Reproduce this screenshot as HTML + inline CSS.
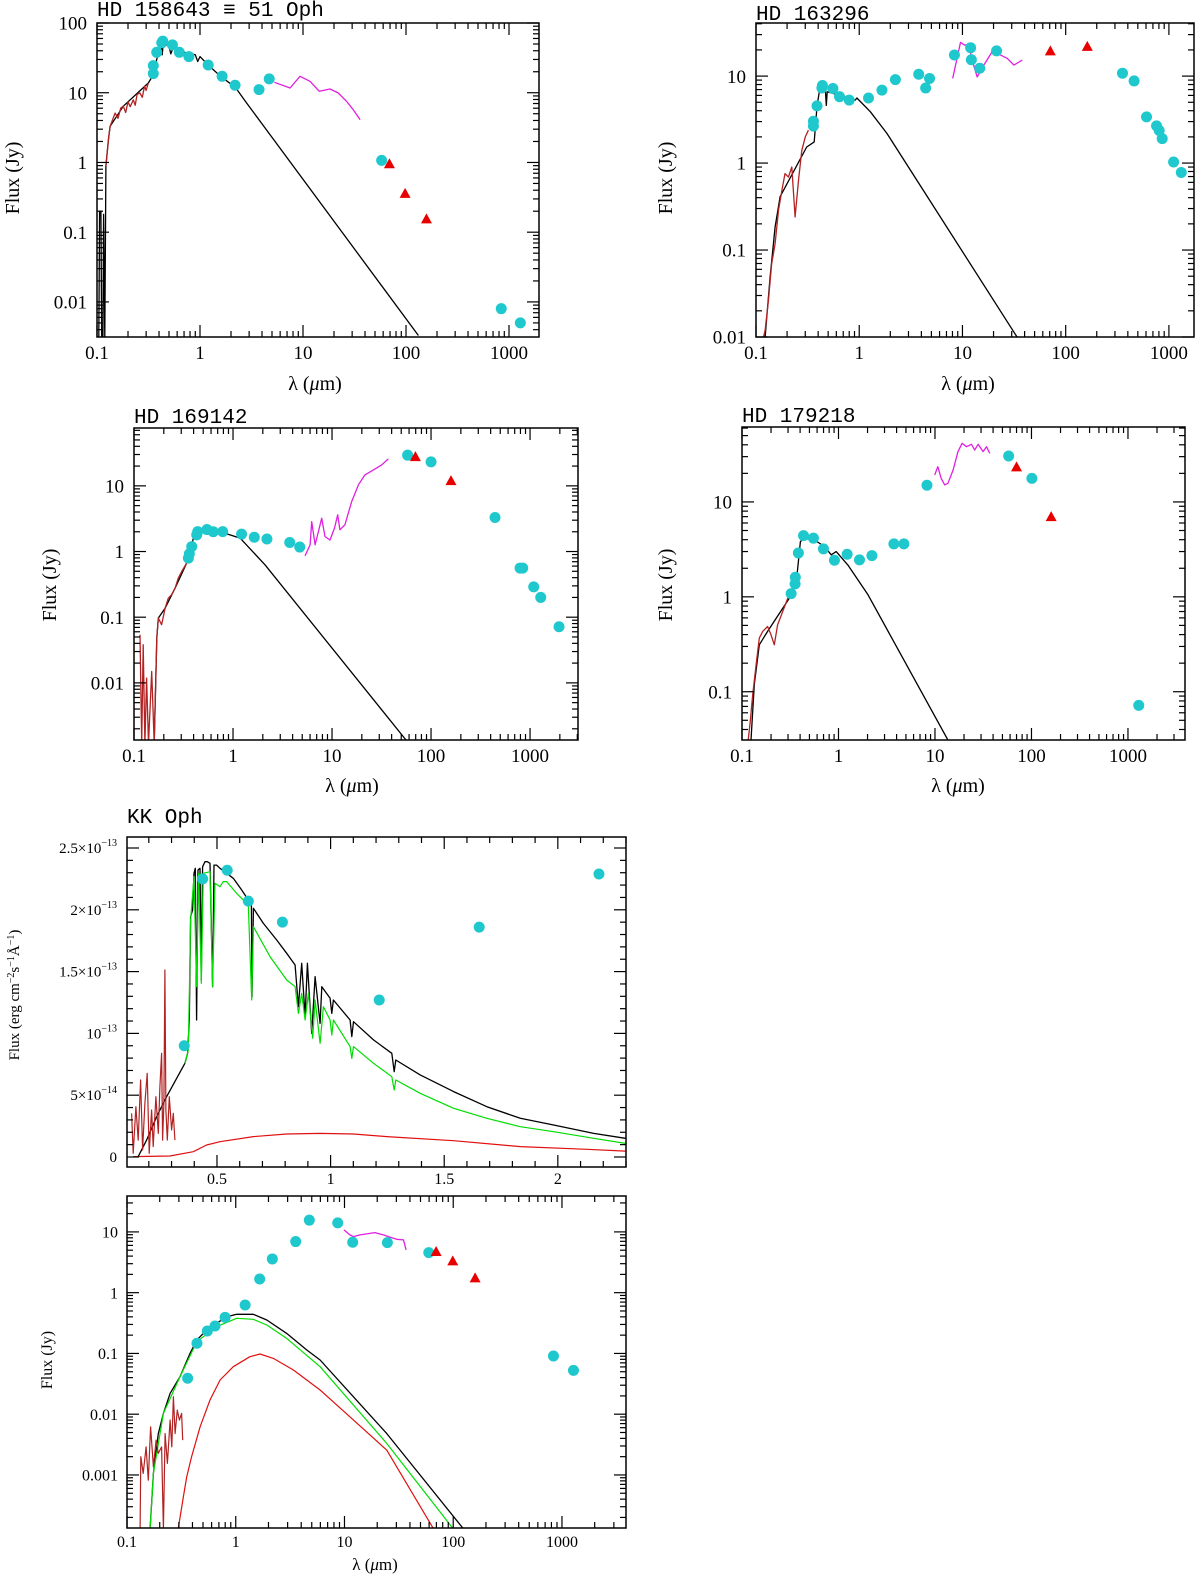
<!DOCTYPE html>
<html><head><meta charset="utf-8"><title>SED panels</title>
<style>
html,body{margin:0;padding:0;background:#fff;}
svg{display:block;}
text{font-family:"Liberation Serif","DejaVu Serif",serif;fill:#000;}
.ttl{font-family:"Liberation Mono","DejaVu Sans Mono",monospace;}
</style></head>
<body>
<svg id="fig" xmlns="http://www.w3.org/2000/svg" width="1200" height="1580" viewBox="0 0 1200 1580"></svg>
<script>
// ---------------- DATA ----------------
// Panel 1: HD 158643
const p1Dots=[[0.352,18.8],[0.352,24.5],[0.38,38],[0.425,52],[0.435,55],[0.54,48.6],[0.63,38],[0.78,33],[1.2,25],[1.64,17.2],[2.19,12.8],[3.74,11.1],[4.7,15.8],[58,1.07],[841,0.008],[1288,0.005]];
const p1Tri=[[69,0.96],[98,0.36],[158,0.155]];
const p1Irs=[[5.26,14.1],[7.5,11.7],[9.35,17.2],[11.7,14.6],[14.4,10.5],[18.3,11.3],[22,9.9],[26.5,7.5],[30.8,5.7],[35.8,4.1]];
const p1Iue=[[0.122,0.88],[0.129,2.1],[0.134,3.3],[0.15,5.1],[0.16,4.3],[0.17,6.0],[0.18,6.4],[0.19,5.2],[0.2,7.4],[0.21,6.3],[0.225,7.9],[0.235,6.6],[0.245,9.5],[0.261,9.9],[0.275,8.6],[0.29,12.5],[0.3,10.8],[0.315,13.8]];
const p1Model=[[0.104,0.003],[0.106,0.2],[0.109,0.2],[0.111,0.003],[0.114,0.003],[0.116,0.18],[0.119,0.003],[0.122,0.9],[0.129,2.1],[0.134,3.3],[0.18,6.4],[0.315,13.8],[0.352,18],[0.38,30],[0.42,50],[0.43,35],[0.44,52],[0.5,46],[0.52,36],[0.55,45],[0.7,38],[0.9,35],[0.95,28],[1.0,33],[1.2,25],[1.6,17],[2.2,12],[2.84,7.1],[132,0.0033]];
// Panel 2: HD 163296
const p2Dots=[[0.36,3.03],[0.36,2.66],[0.39,4.55],[0.435,7.3],[0.44,7.8],[0.556,7.2],[0.644,5.8],[0.8,5.3],[1.23,5.6],[1.66,6.9],[2.24,9.1],[3.77,10.5],[4.4,7.3],[4.8,9.4],[8.36,17.5],[12,21.2],[12.2,15.4],[14.7,12.3],[21.4,19.5],[355,10.8],[460,8.8],[607,3.4],[759,2.68],[805,2.37],[861,1.91],[1110,1.03],[1318,0.78]];
const p2Tri=[[71,19.5],[162,22]];
const p2Irs=[[8.05,9.4],[9.57,24.4],[10.5,22.7],[11.5,23.2],[12.4,15.3],[13.9,9.8],[16.1,13.4],[19.9,20],[21.7,18.3],[27.2,16],[31.5,13.4],[38,15.3]];
const p2Iue=[[0.118,0.0099],[0.1225,0.0119],[0.132,0.026],[0.142,0.07],[0.153,0.118],[0.165,0.286],[0.178,0.486],[0.191,0.757],[0.206,0.69],[0.222,0.9],[0.239,0.24],[0.258,0.634],[0.278,1.4],[0.3,2.0],[0.322,2.39]];
const p2Model=[[0.1225,0.0099],[0.137,0.049],[0.153,0.184],[0.171,0.41],[0.31,1.53],[0.366,1.75],[0.39,4.5],[0.41,6.6],[0.44,6.9],[0.47,6.8],[0.48,4.6],[0.49,6.6],[0.65,6.0],[0.915,5.3],[0.95,5.6],[1.28,3.9],[1.86,2.19],[34,0.0099]];
// Panel 3: HD 169142
const p3Dots=[[0.354,0.794],[0.362,0.92],[0.383,1.19],[0.43,1.79],[0.44,2.01],[0.546,2.16],[0.632,2.0],[0.787,2.01],[1.22,1.84],[1.64,1.65],[2.2,1.55],[3.74,1.37],[4.72,1.17],[58,29.3],[100,23.2],[443,3.3],[793,0.56],[843,0.56],[1089,0.29],[1282,0.2],[1963,0.0715]];
const p3Tri=[[69.5,27.9],[159,12]];
const p3Irs=[[5.34,0.86],[6.0,1.26],[6.24,2.86],[6.74,1.26],[7.28,2.01],[7.87,3.22],[8.5,1.69],[9.55,1.5],[10.6,2.27],[11.4,3.62],[12.0,2.14],[13.5,2.55],[15.8,5.77],[18.5,10.4],[21.5,14.7],[26.2,17.5],[31.8,20.9],[37,25.7]];
const p3Iue=[[0.115,0.054],[0.1195,0.0012],[0.124,0.038],[0.129,0.0012],[0.134,0.0118],[0.14,0.0012],[0.151,0.0149],[0.16,0.0012],[0.17,0.048],[0.176,0.097],[0.19,0.077],[0.206,0.137],[0.222,0.195],[0.24,0.22],[0.26,0.277],[0.28,0.394],[0.303,0.497],[0.34,0.665]];
const p3Model=[[0.16,0.0012],[0.17,0.048],[0.176,0.097],[0.206,0.137],[0.26,0.277],[0.34,0.665],[0.368,0.89],[0.397,1.6],[0.43,2.0],[0.521,2.07],[0.83,1.9],[1.18,1.6],[2.1,0.63],[55.9,0.00135]];
// Panel 4: HD 179218
const p4Dots=[[0.323,1.08],[0.355,1.37],[0.357,1.61],[0.384,2.9],[0.434,4.42],[0.55,4.15],[0.698,3.2],[0.908,2.43],[1.23,2.81],[1.65,2.45],[2.22,2.72],[3.75,3.61],[4.76,3.61],[8.26,15],[58,30.5],[101,17.7],[1294,0.0718]];
const p4Tri=[[70,23.4],[160,7.0]];
const p4Irs=[[9.93,19.2],[10.7,23.5],[11.6,17.7],[12.6,15.1],[13.6,15.7],[15.4,21.7],[17.3,33.9],[19.1,41.5],[21.2,38.2],[23.9,40.5],[25.8,35.2],[28,40.5],[31.5,33.9],[34.2,38.2],[37,32.5]];
const p4Iue=[[0.116,0.031],[0.122,0.049],[0.129,0.093],[0.14,0.192],[0.151,0.367],[0.164,0.432],[0.184,0.487],[0.2,0.398],[0.216,0.312],[0.234,0.507],[0.264,0.7],[0.298,0.97],[0.318,1.0]];
const p4Model=[[0.124,0.031],[0.134,0.119],[0.151,0.312],[0.184,0.432],[0.31,0.97],[0.363,1.34],[0.384,2.36],[0.403,3.82],[0.44,4.15],[0.563,3.98],[0.716,3.39],[0.84,2.77],[0.946,3.0],[1.25,2.17],[2.02,1.05],[13.6,0.031]];
// Panel 5: KK Oph, linear (flux in units of 1e-13 erg/cm2/s/A)
const p5Dots=[[0.356,0.9],[0.437,2.25],[0.545,2.32],[0.638,2.07],[0.788,1.9],[1.214,1.27],[1.654,1.86],[2.181,2.29]];
const p5Total=[[0.1535,0.003],[0.1902,0.137],[0.2342,0.326],[0.2783,0.488],[0.3223,0.636],[0.359,0.758],[0.3708,0.839],[0.3781,1.108],[0.384,1.944],[0.3928,1.998],[0.3987,2.295],[0.4046,2.336],[0.4104,1.108],[0.4163,2.322],[0.4251,2.336],[0.431,1.432],[0.4369,2.349],[0.4471,2.389],[0.4574,2.389],[0.4692,2.376],[0.4809,1.378],[0.4868,2.362],[0.4985,2.362],[0.5132,2.336],[0.5426,2.295],[0.572,2.255],[0.6087,2.16],[0.638,2.079],[0.6513,2.052],[0.6542,1.297],[0.6601,2.012],[0.7041,1.89],[0.7629,1.756],[0.8069,1.648],[0.8436,1.553],[0.8583,1.216],[0.873,1.567],[0.8877,1.135],[0.898,1.567],[0.917,1.0],[0.9317,1.459],[0.9537,1.081],[0.9611,1.378],[0.9978,1.284],[1.0051,1.162],[1.0125,1.27],[1.0859,1.108],[1.0933,0.974],[1.1006,1.095],[1.1887,0.947],[1.2695,0.839],[1.2797,0.69],[1.2871,0.785],[1.3943,0.664],[1.5411,0.529],[1.688,0.407],[1.8348,0.313],[1.9816,0.259],[2.1579,0.191],[2.2973,0.151]];
const p5Star=[[0.359,0.758],[0.3737,0.866],[0.384,1.917],[0.3987,2.268],[0.4104,1.378],[0.4192,2.295],[0.431,1.405],[0.4398,2.295],[0.4692,2.308],[0.4809,1.378],[0.4912,2.214],[0.5132,2.187],[0.5279,2.228],[0.5426,2.228],[0.5867,2.133],[0.638,2.039],[0.6527,1.27],[0.6601,1.863],[0.7335,1.621],[0.8069,1.432],[0.8436,1.378],[0.8583,1.162],[0.873,1.324],[0.8877,1.108],[0.9024,1.324],[0.9214,0.96],[0.9317,1.27],[0.9537,0.92],[0.9684,1.216],[0.9978,1.108],[1.0051,0.987],[1.0125,1.108],[1.0859,0.893],[1.0933,0.798],[1.1006,0.893],[1.1887,0.758],[1.2695,0.65],[1.2797,0.542],[1.2871,0.623],[1.3943,0.515],[1.5411,0.394],[1.688,0.313],[1.8348,0.245],[1.9816,0.205],[2.1579,0.151],[2.2973,0.11]];
const p5Companion=[[0.1314,0.003],[0.293,0.008],[0.3958,0.043],[0.4545,0.097],[0.5132,0.124],[0.6601,0.165],[0.8069,0.186],[0.9537,0.191],[1.1006,0.186],[1.2474,0.165],[1.5411,0.132],[1.8348,0.084],[2.1285,0.062],[2.2973,0.048]];
const p5Iue=[[0.1241,0.353],[0.1314,0.03],[0.1432,0.407],[0.1535,0.137],[0.1637,0.623],[0.1726,0.057],[0.1828,0.434],[0.1931,0.677],[0.2019,0.03],[0.2122,0.38],[0.2195,0.084],[0.2313,0.488],[0.2416,0.191],[0.2489,0.569],[0.2563,0.839],[0.2607,0.137],[0.2665,0.434],[0.271,1.513],[0.2754,0.38],[0.2812,0.137],[0.29,0.488],[0.3003,0.218],[0.3076,0.353],[0.315,0.137]];
// Panel 6: KK Oph, log
const p6Dots=[[0.361,0.039],[0.44,0.147],[0.548,0.234],[0.645,0.283],[0.798,0.393],[1.22,0.628],[1.66,1.68],[2.17,3.59],[3.56,6.94],[4.75,15.6],[8.67,14.1],[11.9,6.76],[24.8,6.67],[59.6,4.57],[835,0.0906],[1276,0.0526]];
const p6Tri=[[69.6,4.75],[99,3.33],[159,1.75]];
const p6Irs=[[9.9,10.8],[11.2,8.93],[12.1,8.38],[13.9,8.93],[16,9.27],[19.1,9.75],[22.8,8.93],[26.3,8.17],[30.3,7.57],[34.9,7.38],[36.9,5.06]];
const p6Total=[[0.163,0.00013],[0.175,0.00106],[0.194,0.0048],[0.216,0.0103],[0.249,0.022],[0.307,0.0414],[0.38,0.1],[0.438,0.166],[0.541,0.243],[0.668,0.313],[0.826,0.403],[1.02,0.44],[1.45,0.44],[1.93,0.355],[2.94,0.214],[4.5,0.114],[5.97,0.078],[24.5,0.0048],[124,0.00013]];
const p6Star=[[0.163,0.00013],[0.175,0.00106],[0.216,0.0103],[0.307,0.0414],[0.438,0.156],[0.668,0.276],[1.02,0.379],[1.45,0.365],[1.93,0.294],[2.94,0.177],[5.97,0.0605],[24.5,0.0033],[100,0.00013]];
const p6Companion=[[0.296,0.00013],[0.33,0.00044],[0.354,0.00093],[0.393,0.002],[0.47,0.0062],[0.58,0.0171],[0.718,0.0365],[0.95,0.0605],[1.35,0.0884],[1.67,0.0978],[2.22,0.083],[3.39,0.0533],[5.97,0.025],[12.1,0.008],[24.5,0.00256],[65.8,0.00013]];
const p6Iue=[[0.132,0.00013],[0.134,0.002],[0.141,0.00106],[0.15,0.0029],[0.157,0.00082],[0.165,0.0062],[0.175,0.00136],[0.185,0.00375],[0.194,0.00226],[0.208,0.0029],[0.216,0.00013],[0.224,0.0048],[0.235,0.00155],[0.249,0.008],[0.258,0.0029],[0.267,0.0194],[0.277,0.0048],[0.29,0.0117],[0.303,0.008],[0.318,0.0103],[0.325,0.00375]];
// Tick labels
const logXLabels=[0.1,1,10,100,1000];
const p1YLabels=[0.01,0.1,1,10,100];
const p2YLabels=[0.01,0.1,1,10];
const p3YLabels=[0.01,0.1,1,10];
const p4YLabels=[0.1,1,10];
const p6YLabels=[0.001,0.01,0.1,1,10];
const p5XTicks=[0.5,1,1.5,2];
const p5YTicks=[0,0.5,1,1.5,2,2.5];
const p5YMant=["0","5","","1.5","2","2.5"];
const p5YExp=["","\u221214","\u221213","\u221213","\u221213","\u221213"];

// ---------------- DRAWING ----------------
const NS='http://www.w3.org/2000/svg';
const svg=document.getElementById('fig');
function mk(tag,attrs,parent){const e=document.createElementNS(NS,tag);for(const k in attrs)e.setAttribute(k,attrs[k]);(parent||svg).appendChild(e);return e;}
const L10=Math.log10;
function axes(c){
  c.sx=v=>c.xlog? c.L+(L10(v)-L10(c.xmin))/(L10(c.xmax)-L10(c.xmin))*(c.R-c.L) : c.L+(v-c.xmin)/(c.xmax-c.xmin)*(c.R-c.L);
  c.sy=v=>c.ylog? c.B-(L10(v)-L10(c.ymin))/(L10(c.ymax)-L10(c.ymin))*(c.B-c.T) : c.B-(v-c.ymin)/(c.ymax-c.ymin)*(c.B-c.T);
  return c;
}
function fmt(v){return String(v);}
function panel(c,name){
  axes(c);
  const g=mk('g',{});
  
  
  const cp=mk('clipPath',{id:'clip-'+name},g);
  mk('rect',{x:c.L,y:c.T,width:c.R-c.L,height:c.B-c.T},cp);
  c.g=g;
  c.plot=mk('g',{'clip-path':'url(#clip-'+name+')'},g);
  
  
  const fr=mk('rect',{x:c.L,y:c.T,width:c.R-c.L,height:c.B-c.T,fill:'none',stroke:'#000','stroke-width':1.5},g);
  
  
  const tk=mk('g',{stroke:'#000','stroke-width':1.2},g);
  
  
  const ML=12,mL=6;
  // x ticks
  let xt=[];
  if(c.xlog){for(let d=Math.floor(L10(c.xmin));d<=Math.ceil(L10(c.xmax));d++)for(let m=1;m<=9;m++){const v=m*Math.pow(10,d);if(v>=c.xmin*0.999&&v<=c.xmax)xt.push([v,m===1]);}}
  else{for(let i=Math.ceil(c.xmin*10);i<=Math.floor(c.xmax*10);i++)xt.push([i/10,i%5===0]);}
  xt.forEach(([v,maj])=>{const x=c.sx(v),l=maj?ML:mL;mk('line',{x1:x,x2:x,y1:c.B,y2:c.B-l},tk);mk('line',{x1:x,x2:x,y1:c.T,y2:c.T+l},tk);});
  let yt=[];
  if(c.ylog){for(let d=Math.floor(L10(c.ymin));d<=Math.ceil(L10(c.ymax));d++)for(let m=1;m<=9;m++){const v=m*Math.pow(10,d);if(v>=c.ymin&&v<=c.ymax*1.001)yt.push([v,m===1]);}}
  else{for(let i=Math.ceil(c.ymin*10);i<=Math.floor(c.ymax*10);i++)yt.push([i/10,i%5===0]);}
  yt.forEach(([v,maj])=>{const y=c.sy(v),l=maj?ML:mL;mk('line',{x1:c.L,x2:c.L+l,y1:y,y2:y},tk);mk('line',{x1:c.R,x2:c.R-l,y1:y,y2:y},tk);});
  return c;
}
function line(c,data,color,w,name){
  const pts=data.map(d=>c.sx(d[0]).toFixed(1)+','+c.sy(Math.max(d[1],1e-30)).toFixed(1)).join(' ');
  const p=mk('polyline',{points:pts,fill:'none',stroke:color,'stroke-width':w,'stroke-linejoin':'round'},c.plot);
  
  
}
function dots(c,data,name){
  data.forEach(d=>{const e=mk('circle',{cx:c.sx(d[0]),cy:c.sy(d[1]),r:5.5,fill:'#1fc8cc'},c.plot);
    
    });
}
function tris(c,data,name){
  data.forEach(d=>{const x=c.sx(d[0]),y=c.sy(d[1]);
    const e=mk('polygon',{points:`${x-5.5},${y+4.5} ${x+5.5},${y+4.5} ${x},${y-5.5}`,fill:'#e80000'},c.plot);
    
    });
}
function text(parent,x,y,s,attrs,name){
  const t=mk('text',Object.assign({x:x,y:y},attrs||{}),parent);t.textContent=s;
  
  
  return t;
}
function logLabels(c,xl,yl,fs,yOff,xRight){
  xl.forEach(v=>{if(v>=c.xmin*0.999&&v<=c.xmax)text(c.g,c.sx(v),c.B+yOff,fmt(v),{'font-size':fs,'text-anchor':'middle'},'x-tick-label');});
  yl.forEach(v=>text(c.g,c.L-xRight,c.sy(v)+fs*0.35,fmt(v),{'font-size':fs,'text-anchor':'end'},'y-tick-label'));
}
function lambdaLabel(c,x,y,fs){
  const t=text(c.g,x,y,'',{'font-size':fs,'text-anchor':'middle'},'x-axis-title');
  t.appendChild(document.createTextNode('\u03bb ('));
  const m=mk('tspan',{'font-style':'italic'},t);m.textContent='\u03bc';
  t.appendChild(document.createTextNode('m)'));
}
function fluxLabel(c,x,y,fs){
  text(c.g,x,y,'Flux (Jy)',{'font-size':fs,'text-anchor':'middle',transform:`rotate(-90 ${x} ${y})`},'y-axis-title');
}
function title(c,x,y,s){text(c.g,x,y,s,{'font-size':21,'class':'ttl'},'panel-title');}

// Panel 1
const P1=panel({L:97,R:539,T:23,B:337,xmin:0.1,xmax:1955,ymin:0.00314,ymax:100,xlog:true,ylog:true},'panel-hd158643');
line(P1,p1Model,'#000',1.3,'photosphere-model');
line(P1,p1Iue,'#b22222',1.3,'iue-spectrum');
line(P1,p1Irs,'#e020e0',1.3,'irs-spectrum');
dots(P1,p1Dots,'photometry-point');tris(P1,p1Tri,'iras-upper-point');
logLabels(P1,logXLabels,p1YLabels,19,22,10);
lambdaLabel(P1,315,390,20);fluxLabel(P1,19,178,20);title(P1,97,16,'HD 158643 \u2261 51 Oph');

// Panel 2
const P2=panel({L:756,R:1194,T:23,B:337,xmin:0.1,xmax:1750,ymin:0.01,ymax:40.8,xlog:true,ylog:true},'panel-hd163296');
line(P2,p2Model,'#000',1.3,'photosphere-model');
line(P2,p2Iue,'#b22222',1.3,'iue-spectrum');
line(P2,p2Irs,'#e020e0',1.3,'irs-spectrum');
dots(P2,p2Dots,'photometry-point');tris(P2,p2Tri,'iras-upper-point');
logLabels(P2,logXLabels,p2YLabels,19,22,10);
lambdaLabel(P2,968,390,20);fluxLabel(P2,672,178,20);title(P2,756,20,'HD 163296');

// Panel 3
const P3=panel({L:134,R:578,T:428,B:740,xmin:0.1,xmax:3050,ymin:0.00135,ymax:76,xlog:true,ylog:true},'panel-hd169142');
line(P3,p3Model,'#000',1.3,'photosphere-model');
line(P3,p3Iue,'#b22222',1.3,'iue-spectrum');
line(P3,p3Irs,'#e020e0',1.3,'irs-spectrum');
dots(P3,p3Dots,'photometry-point');tris(P3,p3Tri,'iras-upper-point');
logLabels(P3,logXLabels,p3YLabels,19,22,10);
lambdaLabel(P3,352,792,20);fluxLabel(P3,56,585,20);title(P3,134,423,'HD 169142');

// Panel 4
const P4=panel({L:742,R:1185,T:427,B:740,xmin:0.1,xmax:3900,ymin:0.031,ymax:61.6,xlog:true,ylog:true},'panel-hd179218');
line(P4,p4Model,'#000',1.3,'photosphere-model');
line(P4,p4Iue,'#b22222',1.3,'iue-spectrum');
line(P4,p4Irs,'#e020e0',1.3,'irs-spectrum');
dots(P4,p4Dots,'photometry-point');tris(P4,p4Tri,'iras-upper-point');
logLabels(P4,logXLabels,p4YLabels,19,22,10);
lambdaLabel(P4,958,792,20);fluxLabel(P4,672,585,20);title(P4,742,422,'HD 179218');

// Panel 5 (linear)
const P5=panel({L:127,R:626,T:837,B:1167,xmin:0.104,xmax:2.30,ymin:-0.081,ymax:2.589,xlog:false,ylog:false},'panel-kkoph-linear');
line(P5,p5Companion,'#e01010',1.2,'companion-model');
line(P5,p5Total,'#000',1.3,'total-model');
line(P5,p5Star,'#00dd00',1.2,'star-model');
line(P5,p5Iue,'#b22222',1.2,'iue-spectrum');
dots(P5,p5Dots,'photometry-point');
p5XTicks.forEach(v=>text(P5.g,P5.sx(v),P5.B+17,String(v),{'font-size':16,'text-anchor':'middle'},'x-tick-label'));
p5YTicks.forEach((v,i)=>{const t=text(P5.g,P5.L-10,P5.sy(v)+5,'',{'font-size':15,'text-anchor':'end'},'y-tick-label');
  let s=p5YMant[i];
  if(p5YExp[i]){s=(s?s+'\u00d7':'')+'10';t.appendChild(document.createTextNode(s));const sp=mk('tspan',{dy:-7,'font-size':10},t);sp.textContent=p5YExp[i];}
  else t.appendChild(document.createTextNode(s));});
(function(){const x=19,y=995;const t=text(P5.g,x,y,'',{'font-size':15,'text-anchor':'middle',transform:`rotate(-90 ${x} ${y})`},'y-axis-title');
  const parts=[['Flux (erg cm',0],['\u22122',1],['s',0],['\u22121',1],['\u00c5',0],['\u22121',1],[')',0]];
  parts.forEach(([s,sup])=>{const sp=mk('tspan',sup?{'font-size':10,'baseline-shift':'super'}:{},t);sp.textContent=s;});})();
title(P5,127,823,'KK Oph');

// Panel 6 (log)
const P6=panel({L:127,R:626,T:1196,B:1528,xmin:0.1,xmax:3880,ymin:0.000134,ymax:39,xlog:true,ylog:true},'panel-kkoph-log');
line(P6,p6Companion,'#e01010',1.2,'companion-model');
line(P6,p6Total,'#000',1.3,'total-model');
line(P6,p6Star,'#00dd00',1.2,'star-model');
line(P6,p6Iue,'#b22222',1.2,'iue-spectrum');
line(P6,p6Irs,'#e020e0',1.3,'irs-spectrum');
dots(P6,p6Dots,'photometry-point');tris(P6,p6Tri,'iras-upper-point');
logLabels(P6,logXLabels,p6YLabels,16,19,9);
lambdaLabel(P6,375,1570,17);fluxLabel(P6,52,1360,16);
</script>
</body></html>
